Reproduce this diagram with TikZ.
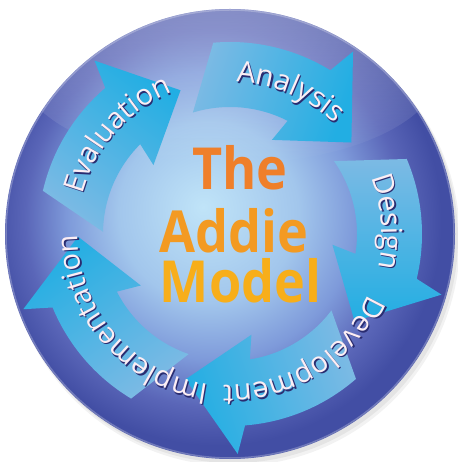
\documentclass[tikz,border=0pt]{standalone}
\usepackage{fontspec}
\setmainfont{Open Sans}
\usetikzlibrary{decorations.text,fadings}

\definecolor{ballA}{HTML}{C0E4F8}
\definecolor{ballB}{HTML}{A2C6EC}
\definecolor{ballC}{HTML}{7E9ADA}
\definecolor{ballD}{HTML}{5A66B8}
\definecolor{ballE}{HTML}{424EA4}
\definecolor{arrowhead}{HTML}{22AEE3}
\definecolor{arrowtail}{HTML}{7CBAE4}
\definecolor{labeltext}{HTML}{FCEEF4}
\definecolor{labelshadow}{HTML}{2A2C70}
\definecolor{titleA}{HTML}{EF7F2A}
\definecolor{titleB}{HTML}{F39A22}
\definecolor{titleC}{HTML}{F7AE1A}

\pgfdeclareradialshading{ballshading}{\pgfpoint{-3bp}{3bp}}{color(0bp)=(ballA); color(10bp)=(ballB); color(16bp)=(ballC); color(21bp)=(ballD); color(25bp)=(ballE); color(50bp)=(ballE)}

\newcommand{\labelfont}{\fontsize{29}{30}\selectfont}
\newcommand{\arclabel}[3]{%
  \path[shift={(1.3,-1.4)}, decorate, decoration={text along path, text color=labelshadow, text align=center,
    text={|\labelfont|#1}}] (#2+45:#3) arc[start angle=#2+45, end angle=#2-45, radius=#3];
  \path[decorate, decoration={text along path, text color=labeltext, text align=center,
    text={|\labelfont|#1}}] (#2+45:#3) arc[start angle=#2+45, end angle=#2-45, radius=#3];
}

\tikzset{
  arrowpart/.style={bottom color=arrowtail, top color=arrowhead, shading angle=#1},
  title/.style={anchor=base, inner sep=0pt, xscale=0.9, font=\fontsize{58}{60}\bfseries}
}

\begin{document}
\begin{tikzpicture}[x=1pt,y=1pt]
  \useasboundingbox (-230,-228) rectangle (227,234);
  \fill[black, opacity=0.05] (4,-6) circle (226);
  \fill[black, opacity=0.06] (3,-4) circle (225);
  \shade[shading=ballshading] (0,0) circle (225);
  \begin{scope}
    \clip (0,0) circle (225);
    \fill[white, opacity=0.4, path fading=south] (0,165) ellipse (210 and 95);
  \end{scope}
  \draw[white, opacity=0.25, line width=1.5] (0,0) circle (224);

  \foreach \a [evaluate=\a as \sa using \a-145] in {37,-35,-107,-179,109}
    \shade[arrowpart=\sa] (\a:152) -- (\a+19:220) -- (\a+21.5:192)
      arc[start angle=\a+21.5, end angle=\a+58, radius=192] -- (\a+70:127)
      arc[start angle=\a+70, end angle=\a+26, radius=127] -- (\a+29:103) -- cycle;

  \arclabel{Analysis}{67}{152}
  \arclabel{Design}{4.5}{152}
  \arclabel{Development}{-58}{151}
  \arclabel{Implementation}{-139}{152}
  \arclabel{Evaluation}{138.5}{153}

  \node[title, text=titleA] (the) at (10,44) {The};
  \node[title, text=titleB] (addie) at (4,-19) {Addie};
  \node[title, text=titleC] (model) at (10.5,-69) {Model};
\end{tikzpicture}
\end{document}
